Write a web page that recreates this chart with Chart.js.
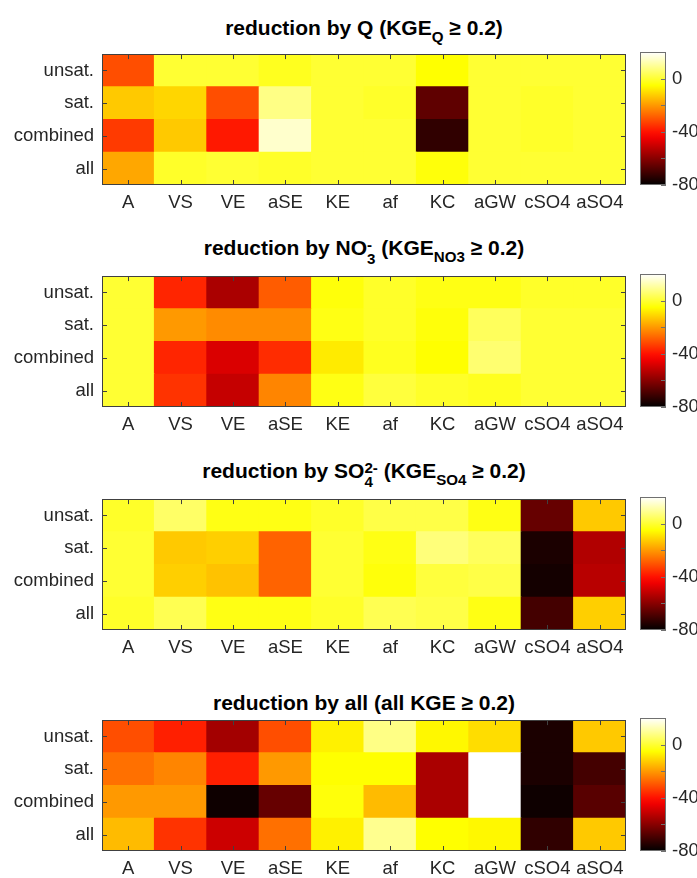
<!DOCTYPE html>
<html>
<head>
<meta charset="utf-8">
<script src="https://cdn.jsdelivr.net/npm/chart.js@4/dist/chart.umd.min.js"></script>
<style>
  html, body { margin: 0; padding: 0; background: #fff; }
  body { width: 697px; height: 878px; position: relative; overflow: hidden; }
  canvas { position: absolute; }
  .title {
    position: absolute; left: 102px; width: 524px; text-align: center;
    font: bold 21px "Liberation Sans", Arial, sans-serif; color: #000;
    line-height: 22px; white-space: nowrap;
  }
  .title sub { font-size: 0.72em; line-height: 0; vertical-align: -0.45em; }
  .title sup { font-size: 0.72em; line-height: 0; vertical-align: 0.55em; }
  .ss { display: inline-block; font-size: 0.72em; line-height: 0.95em; vertical-align: -0.62em; text-align: left; }
  .ss span { display: block; }
</style>
</head>
<body>
<div class="title" style="top:17px">reduction by Q (KGE<sub>Q</sub> ≥ 0.2)</div>
<div class="title" style="top:237px">reduction by NO<span class="ss"><span>-</span><span>3</span></span> (KGE<sub>NO3</sub> ≥ 0.2)</div>
<div class="title" style="top:460px">reduction by SO<span class="ss"><span>2-</span><span>4</span></span> (KGE<sub>SO4</sub> ≥ 0.2)</div>
<div class="title" style="top:692px">reduction by all (all KGE ≥ 0.2)</div>
<script>
// achsen
const cols = ['A', 'VS', 'VE', 'aSE', 'KE', 'af', 'KC', 'aGW', 'cSO4', 'aSO4'];
const rows = ['unsat.', 'sat.', 'combined', 'all'];
const cbarTicks = [-80, -60, -40, -20, 0];
const cmin = -80, cmax = 20;

// werte pro zeile (unsat., sat., combined, all)
const redQ = [
  [-31, 0, 0, -2, 0, 0, -5, 0, 0, 0],
  [-13, -11, -31, 8, 0, -1, -66, 0, -1, 0],
  [-34, -13, -39, 15, 0, 0, -73, 0, -1, 0],
  [-18, -1, 0, -1, 0, 0, -4, 0, 0, 0]
];
const redNO3 = [
  [0, -37, -55, -29, -4, -1, -3, -3, -1, -1],
  [0, -20, -22, -22, -3, -1, -4, 4, 0, 0],
  [0, -37, -48, -36, -8, -2, -5, 6, 0, 0],
  [0, -35, -51, -23, -3, 1, -1, -2, 0, 0]
];
const redSO4 = [
  [-1, 5, -3, -3, -1, 2, 2, -3, -65, -13],
  [0, -13, -12, -28, 0, -3, 7, 4, -76, -54],
  [0, -12, -14, -28, 0, -4, 1, 2, -77, -53],
  [-1, 3, -3, -3, -1, 3, 2, -3, -70, -12]
];
const redAll = [
  [-31, -38, -56, -31, -7, 8, -6, -10, -76, -13],
  [-26, -23, -38, -20, -5, -5, -55, 20, -76, -70],
  [-20, -20, -78, -65, -4, -15, -55, 20, -78, -67],
  [-15, -35, -50, -26, -7, 9, -5, -6, -73, -13]
];

const panelTops = [47, 269, 492, 713];
const panels = [redQ, redNO3, redSO4, redAll];

const txt = '#262626';
const fnt = { family: '"Liberation Sans", Arial, sans-serif', size: 18.5 };

// matlab "hot"
function hot(v) {
  const t = Math.min(1, Math.max(0, (v - cmin) / (cmax - cmin)));
  const r = Math.min(1, t / 0.375);
  const g = Math.min(1, Math.max(0, (t - 0.375) / 0.375));
  const b = Math.min(1, Math.max(0, (t - 0.75) / 0.25));
  return `rgb(${Math.round(r * 255)},${Math.round(g * 255)},${Math.round(b * 255)})`;
}

// rahmen + kleine ticks nach innen
const boxPlugin = {
  id: 'box',
  afterDraw(chart, args, opts) {
    const { ctx, chartArea: a, scales } = chart;
    const tl = 5;
    ctx.save();
    ctx.strokeStyle = opts.color || '#404040';
    ctx.lineWidth = 1;
    const line = (x1, y1, x2, y2) => { ctx.beginPath(); ctx.moveTo(x1, y1); ctx.lineTo(x2, y2); ctx.stroke(); };
    if (opts.xTicks) {
      scales.x.ticks.forEach((t, i) => {
        const px = Math.round(scales.x.getPixelForTick(i)) + 0.5;
        line(px, a.bottom, px, a.bottom - tl);
        line(px, a.top, px, a.top + tl);
      });
    }
    scales.y.ticks.forEach((t, i) => {
      const py = Math.round(scales.y.getPixelForTick(i)) + 0.5;
      if (opts.leftTicks) line(a.left, py, a.left + tl, py);
      line(a.right, py, a.right - tl, py);
    });
    ctx.strokeRect(Math.round(a.left) + 0.5, Math.round(a.top) + 0.5, Math.round(a.width) - 1, Math.round(a.height) - 1);
    ctx.restore();
  }
};

function makeCanvas(left, top, w, h) {
  const c = document.createElement('canvas');
  c.width = w; c.height = h;
  c.style.left = left + 'px'; c.style.top = top + 'px';
  document.body.appendChild(c);
  return c;
}

panels.forEach((vals, p) => {
  const top = panelTops[p] - 12;
  const h = 186;

  // heatmap aus gestapelten balken
  const datasets = [];
  for (let i = rows.length - 1; i >= 0; i--) {
    datasets.push({
      label: rows[i],
      data: cols.map(() => 1),
      backgroundColor: vals[i].map(hot),
      borderWidth: 0,
      barPercentage: 1,
      categoryPercentage: 1,
      inflateAmount: 0.5,
      stack: 's'
    });
  }
  new Chart(makeCanvas(0, top, 632, h), {
    type: 'bar',
    data: { labels: cols, datasets },
    options: {
      responsive: false,
      animation: false,
      layout: { padding: { top: 12, right: 6, left: 0, bottom: 0 } },
      plugins: {
        legend: { display: false },
        tooltip: { enabled: false },
        box: { xTicks: true, leftTicks: true }
      },
      scales: {
        x: {
          stacked: true,
          grid: { display: false, drawTicks: false },
          border: { display: false },
          ticks: { color: txt, font: fnt, padding: 7, autoSkip: false, maxRotation: 0 },
          afterFit: s => { s.height = 36; }
        },
        y: {
          stacked: true,
          min: 0, max: 4,
          grid: { display: false, drawTicks: false },
          border: { display: false },
          afterBuildTicks: s => { s.ticks = [0.5, 1.5, 2.5, 3.5].map(v => ({ value: v })); },
          ticks: {
            color: txt, font: fnt, padding: 8, autoSkip: false,
            callback: v => rows[rows.length - 1 - Math.floor(v)]
          },
          afterFit: s => { s.width = 102; }
        }
      }
    },
    plugins: [boxPlugin]
  });

  // farbskala
  new Chart(makeCanvas(632, top, 65, h), {
    type: 'bar',
    data: {
      labels: [''],
      datasets: [{
        data: [[cmin, cmax]],
        borderWidth: 0,
        barPercentage: 1,
        categoryPercentage: 1,
        backgroundColor: c => {
          const ch = c.chart;
          if (!ch.chartArea) return 'black';
          const ys = ch.scales.y;
          const g = ch.ctx.createLinearGradient(0, ys.getPixelForValue(cmin), 0, ys.getPixelForValue(cmax));
          for (let k = 0; k <= 20; k++) g.addColorStop(k / 20, hot(cmin + (cmax - cmin) * k / 20));
          return g;
        }
      }]
    },
    options: {
      responsive: false,
      animation: false,
      layout: { padding: { top: 12, left: 8, right: 0, bottom: 36 } },
      plugins: {
        legend: { display: false },
        tooltip: { enabled: false },
        box: { xTicks: false, leftTicks: false, color: '#707070' }
      },
      scales: {
        x: { display: false },
        y: {
          position: 'right',
          min: cmin, max: cmax,
          grid: { display: false, drawTicks: false },
          border: { display: false },
          afterBuildTicks: s => { s.ticks = cbarTicks.map(v => ({ value: v })); },
          ticks: {
            color: txt, font: fnt, padding: 6, autoSkip: false,
            callback: v => (v % 40 === 0 ? String(v) : '')
          },
          afterFit: s => { s.width = 31; }
        }
      }
    },
    plugins: [boxPlugin]
  });
});
</script>
</body>
</html>
